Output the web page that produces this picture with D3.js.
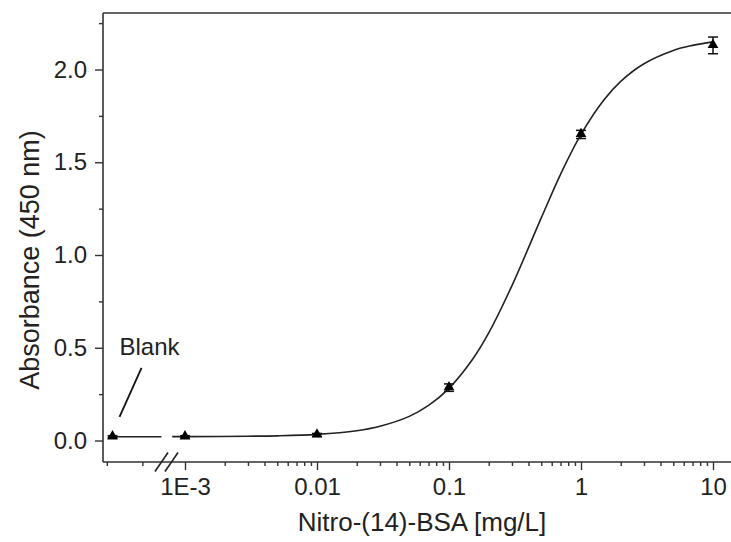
<!DOCTYPE html>
<html>
<head>
<meta charset="utf-8">
<script src="https://cdn.jsdelivr.net/npm/d3@7"></script>
<style>
  html, body { margin: 0; padding: 0; background: #fff; }
  svg { display: block; }
  text { font-family: "Liberation Sans", Arial, sans-serif; fill: #222; }
</style>
</head>
<body>
<svg id="chart" width="731" height="542"></svg>
<script>
// ---- data ----
const concentrations = [0.001, 0.01, 0.1, 1, 10];          // mg/L
const absorbance     = [0.02, 0.03, 0.285, 1.65, 2.13];
const errors         = [0.006, 0.008, 0.02, 0.022, 0.045];
const blankLabel = "Blank";
const blankValue = [0.02];
const blankError = [0.006];
const fitX = [0.0008, 0.001, 0.003, 0.005, 0.01, 0.02, 0.03, 0.05, 0.07, 0.1, 0.15, 0.2, 0.3, 0.5, 0.7, 1, 1.5, 2, 3, 5, 7, 10];
const fitY = [0.021, 0.021, 0.023, 0.025, 0.033, 0.053, 0.077, 0.13, 0.189, 0.281, 0.435, 0.58, 0.835, 1.20, 1.435, 1.65, 1.838, 1.936, 2.031, 2.103, 2.13, 2.149];
const xTicks = [0.001, 0.01, 0.1, 1, 10];
const xTickLabels = ["1E-3", "0.01", "0.1", "1", "10"];
const yTicks = [0, 0.5, 1.0, 1.5, 2.0];
const yTickLabels = ["0.0", "0.5", "1.0", "1.5", "2.0"];
const yMinorTicks = [0.25, 0.75, 1.25, 1.75, 2.25];
const xTitle = "Nitro-(14)-BSA [mg/L]";
const yTitle = "Absorbance (450 nm)";

// ---- layout ----
const mLeft = 103, mTop = 13, mBottom = 462, mRight = 731;
const svg = d3.select("#chart");

const x = d3.scaleLog().domain([0.001, 10]).range([185, 713]);
const y = d3.scaleLinear().domain([0, 2]).range([440.5, 69.5]);
// segment before the axis break (blank)
const xb = d3.scaleLinear().domain([0, 1]).range([mLeft, 166.5]);
const blankPos = 0.15;

const axisColor = "#333";
const font = "Liberation Sans, Arial, sans-serif";

// minor x ticks (log)
const xMinor = [];
[0.001, 0.01, 0.1, 1].forEach(d => { for (let k = 2; k <= 9; k++) xMinor.push(d * k); });

// frame lines
svg.append("line").attr("x1", mLeft).attr("x2", mRight).attr("y1", mTop).attr("y2", mTop)
  .attr("stroke", axisColor).attr("stroke-width", 1.6);
svg.append("line").attr("x1", mLeft).attr("x2", mRight).attr("y1", mBottom).attr("y2", mBottom)
  .attr("stroke", axisColor).attr("stroke-width", 1.6);
svg.append("line").attr("x1", mLeft).attr("x2", mLeft).attr("y1", mTop).attr("y2", mBottom)
  .attr("stroke", axisColor).attr("stroke-width", 1.6);

// x axis major
const gx = svg.append("g").attr("transform", `translate(0,${mBottom})`)
  .call(d3.axisBottom(x).tickValues(xTicks).tickFormat((d, i) => xTickLabels[i]).tickSize(8).tickPadding(8));
gx.select(".domain").remove();
gx.selectAll("line").attr("stroke", axisColor).attr("stroke-width", 1.4);
gx.selectAll("text").attr("font-size", 24).attr("fill", "#222").attr("font-family", font);

// x axis minor
const gxm = svg.append("g").attr("transform", `translate(0,${mBottom})`)
  .call(d3.axisBottom(x).tickValues(xMinor).tickFormat("").tickSize(4));
gxm.select(".domain").remove();
gxm.selectAll("line").attr("stroke", axisColor).attr("stroke-width", 1.4);

// blank segment minor ticks
const gxb = svg.append("g").attr("transform", `translate(0,${mBottom})`)
  .call(d3.axisBottom(xb).tickValues([0.06, 0.62]).tickFormat("").tickSize(4));
gxb.select(".domain").remove();
gxb.selectAll("line").attr("stroke", axisColor).attr("stroke-width", 1.4);

// y axis major
const gy = svg.append("g").attr("transform", `translate(${mLeft},0)`)
  .call(d3.axisLeft(y).tickValues(yTicks).tickFormat((d, i) => yTickLabels[i]).tickSize(8).tickPadding(8));
gy.select(".domain").remove();
gy.selectAll("line").attr("stroke", axisColor).attr("stroke-width", 1.4);
gy.selectAll("text").attr("font-size", 24).attr("fill", "#222").attr("font-family", font);

const gym = svg.append("g").attr("transform", `translate(${mLeft},0)`)
  .call(d3.axisLeft(y).tickValues(yMinorTicks).tickFormat("").tickSize(4));
gym.select(".domain").remove();
gym.selectAll("line").attr("stroke", axisColor).attr("stroke-width", 1.4);

// axis break marks
[-5, 5].forEach(off => {
  svg.append("line")
    .attr("x1", xb(1) + off - 6.5).attr("y1", mBottom + 9.5)
    .attr("x2", xb(1) + off + 6.5).attr("y2", mBottom - 9.5)
    .attr("stroke", "#222").attr("stroke-width", 1.6);
});

// blank horizontal segment
svg.append("line")
  .attr("x1", xb(0.08)).attr("x2", xb(0.92))
  .attr("y1", y(blankValue[0])).attr("y2", y(blankValue[0]))
  .attr("stroke", "#222").attr("stroke-width", 1.6);

// fitted curve
const fitData = fitX.map((d, i) => [d, fitY[i]]);
svg.append("path").datum(fitData)
  .attr("fill", "none").attr("stroke", "#222").attr("stroke-width", 1.6)
  .attr("d", d3.line().x(d => x(d[0])).y(d => y(d[1])).curve(d3.curveCatmullRom.alpha(0.5)));

// error bars
const pts = concentrations.map((c, i) => ({ px: x(c), v: absorbance[i], e: errors[i] }));
pts.unshift({ px: xb(blankPos), v: blankValue[0], e: blankError[0] });
const eb = svg.append("g").attr("stroke", "#111").attr("stroke-width", 1.5);
pts.forEach(p => {
  eb.append("line").attr("x1", p.px).attr("x2", p.px).attr("y1", y(p.v - p.e)).attr("y2", y(p.v + p.e));
  [p.v - p.e, p.v + p.e].forEach(v => {
    eb.append("line").attr("x1", p.px - 5).attr("x2", p.px + 5).attr("y1", y(v)).attr("y2", y(v));
  });
});

// markers
svg.append("g").selectAll("path").data(pts).join("path")
  .attr("transform", p => `translate(${p.px},${y(p.v) - 0.5})`)
  .attr("d", d3.symbol(d3.symbolTriangle, 50))
  .attr("fill", "#000");

// Blank annotation
const bx = xb(blankPos), by = y(blankValue[0]);
svg.append("line")
  .attr("x1", bx + 7).attr("y1", by - 20)
  .attr("x2", bx + 29).attr("y2", by - 69)
  .attr("stroke", "#111").attr("stroke-width", 1.8);
svg.append("text").attr("x", bx + 7).attr("y", by - 82)
  .attr("font-size", 24).text(blankLabel);

// axis titles
svg.append("text").attr("x", 422).attr("y", 531).attr("text-anchor", "middle")
  .attr("font-size", 26).text(xTitle);
svg.append("text").attr("transform", `translate(39,260) rotate(-90)`).attr("text-anchor", "middle")
  .attr("font-size", 27).text(yTitle);
</script>
</body>
</html>
